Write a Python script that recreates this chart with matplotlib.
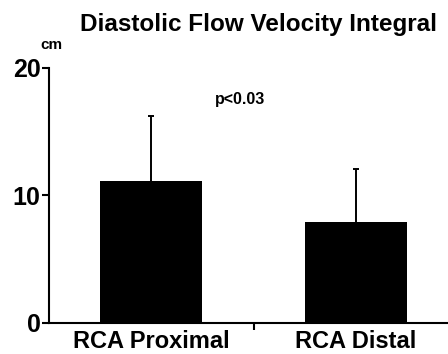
import matplotlib
matplotlib.use("Agg")
import matplotlib.pyplot as plt

categories = ["RCA Proximal", "RCA Distal"]
means = [11.1, 7.95]
sd_upper = [5.1, 4.15]
yticks = [0, 10, 20]

plt.rcParams['font.family'] = ['Liberation Sans', 'DejaVu Sans']
plt.rcParams['font.weight'] = 'bold'

fig = plt.figure(figsize=(4.48, 3.54), dpi=100)
ax = fig.add_axes([0.109, 0.0876, 0.891, 0.7204])

x = list(range(len(categories)))
tops = [m + s for m, s in zip(means, sd_upper)]
ax.bar(x, means, width=0.5, color="black", zorder=2)
# upper-only error bars with a small cap at the top
ax.vlines(x, means, tops, color="black", linewidth=1.4, zorder=3)
ax.plot(x, tops, linestyle="none", marker="_", markersize=4,
        markeredgewidth=1.4, color="black", zorder=3)

ax.set_xlim(-0.5, 1.45)
ax.set_ylim(0, 20)

for side in ("top", "right"):
    ax.spines[side].set_visible(False)
for side in ("left", "bottom"):
    ax.spines[side].set_linewidth(1.5)

ax.set_yticks(yticks)
ax.set_yticklabels([str(t) for t in yticks], fontsize=18, fontweight="bold")
ax.tick_params(axis="y", direction="out", length=5, width=1.5, pad=1)

# separator tick between the two groups, labels centred under bars
ax.set_xticks([0.5])
ax.set_xticklabels([""])
ax.tick_params(axis="x", which="major", direction="out", length=5, width=1.5)
ax.set_xticks(x, minor=True)
ax.set_xticklabels(categories, minor=True, fontsize=17, fontweight="bold")
ax.tick_params(axis="x", which="minor", length=0, pad=5)

fig.text(0.578, 0.93, "Diastolic Flow Velocity Integral", ha="center", va="center",
         fontsize=17.5, fontweight="bold")
fig.text(0.09, 0.872, "cm", ha="left", va="center", fontsize=11, fontweight="bold")
ax.text(0.417, 0.875, "p<0.03", transform=ax.transAxes, ha="left", va="center",
        fontsize=11.5, fontweight="bold")

fig.savefig("out.png", dpi=100)
